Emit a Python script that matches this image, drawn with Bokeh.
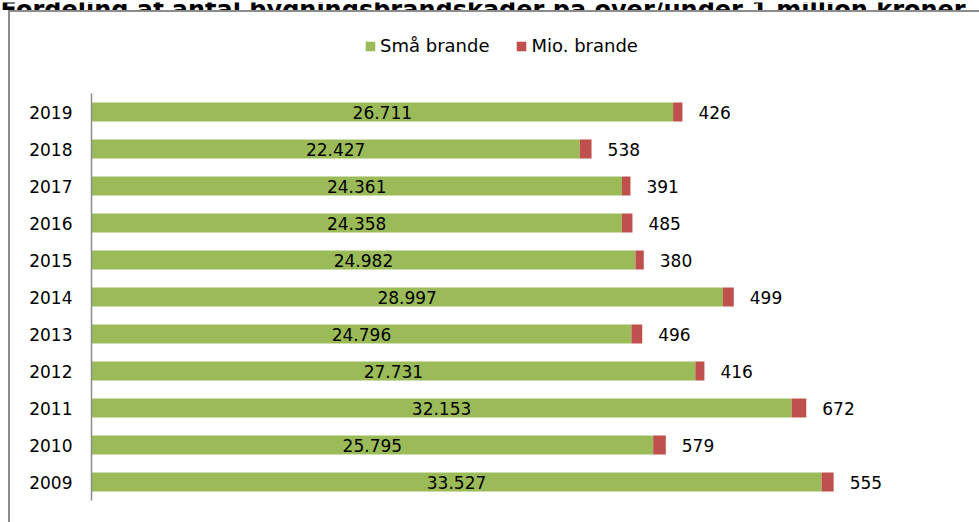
from bokeh.plotting import figure
from bokeh.models import (ColumnDataSource, Range1d, Legend, LegendItem, Label, LabelSet,
                          FixedTicker)
from bokeh.layouts import column
from bokeh.core.properties import value
from bokeh.embed import file_html
from bokeh.resources import INLINE

title_text = "Fordeling af antal bygningsbrandskader på over/under 1 million kroner"
years = [2009, 2010, 2011, 2012, 2013, 2014, 2015, 2016, 2017, 2018, 2019]
small = [33527, 25795, 32153, 27731, 24796, 28997, 24982, 24358, 24361, 22427, 26711]
mio = [555, 579, 672, 416, 496, 499, 380, 485, 391, 538, 426]
series_names = ["Små brande", "Mio. brande"]
colors = ["#9BBB59", "#C0504D"]


def fmt(v):
    return f"{v:,}".replace(",", ".")


src = ColumnDataSource(dict(
    year=years,
    small=small,
    mio=mio,
    total=[a + b for a, b in zip(small, mio)],
    small_mid=[a / 2 for a in small],
    small_lbl=[fmt(v) for v in small],
    mio_lbl=[fmt(v) for v in mio],
))

# --- thin strip holding the (cropped) title ---
t = figure(width=979, height=10, x_range=Range1d(0, 979), y_range=Range1d(0, 10),
           output_backend="svg", toolbar_location=None, x_axis_location=None,
           y_axis_location=None, min_border=0)
t.frame_align = False
t.outline_line_color = None
t.grid.visible = False
t.add_layout(Label(x=0, y=3, text=title_text, text_font="DejaVu Sans",
                   text_font_style="bold", text_font_size="24px",
                   text_baseline="alphabetic", text_color="#000000"))

# --- main chart ---
lo, hi = min(years) - 0.5, max(years) + 0.5
p = figure(width=979, height=512, y_range=Range1d(lo, lo + 490 / 37.0),
           x_range=Range1d(0, 40000), output_backend="svg", toolbar_location=None,
           x_axis_location=None, min_border_left=91, min_border_right=17,
           min_border_top=0, min_border_bottom=22)
p.frame_align = False
p.outline_line_color = None
p.xgrid.visible = False
p.ygrid.visible = False
p.border_fill_color = None
p.background_fill_color = None
line_bg = "linear-gradient(#8c8c8c, #8c8c8c)"
p.styles = {
    "background": (f"{line_bg} 8px 0px / 2px 100% no-repeat, "
                   f"{line_bg} 8px 0px / calc(100% - 8px) 2px no-repeat, #ffffff"),
}

rs = p.hbar_stack(["small", "mio"], y="year", height=0.52, color=colors, source=src,
                  line_color=None)

ax = p.yaxis[0]
ax.ticker = FixedTicker(ticks=years)
ax.major_label_overrides = {y: str(y) for y in years}
ax.bounds = (lo, hi)
ax.axis_line_color = "#8c8c8c"
ax.axis_line_width = 1.5
ax.major_tick_line_color = None
ax.minor_tick_line_color = None
ax.major_tick_out = 0
ax.major_tick_in = 0
ax.major_label_standoff = 19
ax.major_label_text_font = "DejaVu Sans"
ax.major_label_text_font_size = "17px"
ax.major_label_text_color = "#000000"

p.add_layout(LabelSet(x="small_mid", y="year", text="small_lbl", source=src,
                      text_align="center", text_baseline="middle",
                      text_font=value("DejaVu Sans"), text_font_size="17px",
                      text_color="#000000"))
p.add_layout(LabelSet(x="total", y="year", text="mio_lbl", source=src, x_offset=16,
                      text_align="left", text_baseline="middle",
                      text_font=value("DejaVu Sans"), text_font_size="17px",
                      text_color="#000000"))

legend = Legend(items=[LegendItem(label=series_names[0], renderers=[rs[0]]),
                       LegendItem(label=series_names[1], renderers=[rs[1]])],
                orientation="horizontal", location=(273, 444),
                glyph_width=12, glyph_height=12, label_standoff=4, spacing=26,
                padding=0, margin=0, border_line_color=None, background_fill_alpha=0,
                label_text_font="DejaVu Sans", label_text_font_size="18px",
                label_text_color="#000000")
p.add_layout(legend, "center")

open("out.html", "w").write(file_html(column(t, p, spacing=0), INLINE))
